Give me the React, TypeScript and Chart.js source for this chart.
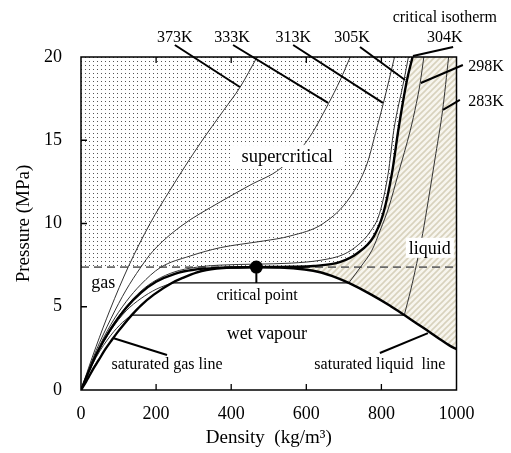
import React, { useEffect, useRef } from "react";
import { Chart, registerables } from "chart.js";

Chart.register(...registerables);

type Pt = [number, number];

// Axis ticks
const xTicks = [0, 200, 400, 600, 800, 1000];
const yTicks = [0, 5, 10, 15, 20];

// Critical point of CO2 (density kg/m3, pressure MPa)
const criticalPoint: Pt = [467, 7.38];
const criticalPressure = 7.38;

// Saturation dome
const satGas: Pt[] = [[0, 0], [14, 0.52], [21, 0.8], [33, 1.28], [47, 1.79], [64, 2.42], [82, 3.0], [98, 3.49], [115, 3.97], [135, 4.5], [160, 5.09], [194, 5.73], [242, 6.43], [271, 6.73], [307, 7.05], [334, 7.21], [398, 7.35], [467, 7.38]];
const satLiquid: Pt[] = [[467, 7.38], [530, 7.36], [596, 7.24], [637, 7.07], [680, 6.75], [713, 6.43], [773, 5.73], [821, 5.09], [861, 4.5], [896, 3.97], [928, 3.49], [956, 3.05], [983, 2.65], [1000, 2.45]];

// Isotherms
const iso373: Pt[] = [[0, 0], [40, 2.6], [77, 4.8], [126, 7.4], [184, 10.0], [237, 12.0], [317, 14.8], [380, 16.8], [424, 18.2], [469, 20]];
const iso333: Pt[] = [[0, 0], [40, 2.35], [80, 4.3], [120, 6.0], [157, 7.3], [190, 8.3], [264, 9.8], [371, 11.3], [450, 12.3], [531, 13.3], [603, 15.0], [659, 17.2], [690, 18.6], [717, 20]];
const iso313: Pt[] = [[0, 0], [40, 2.2], [80, 3.95], [120, 5.3], [160, 6.35], [211, 7.35], [291, 8.05], [371, 8.55], [424, 8.75], [486, 8.95], [557, 9.25], [645, 10.0], [717, 11.6], [762, 13.6], [784, 15.4], [805, 17.2], [835, 20]];
const iso305: Pt[] = [[0, 0], [40, 2.12], [80, 3.75], [120, 5.0], [160, 5.95], [200, 6.6], [250, 7.1], [300, 7.35], [370, 7.5], [467, 7.56], [560, 7.62], [640, 7.8], [700, 8.15], [740, 8.75], [770, 9.5], [795, 10.6], [818, 13.0], [833, 15.6], [860, 18.6], [872, 20]];
const iso304: Pt[] = [[0, 0], [40, 2.1], [80, 3.7], [120, 4.93], [160, 5.85], [200, 6.5], [250, 6.98], [300, 7.22], [370, 7.34], [467, 7.38], [560, 7.4], [620, 7.45], [691, 7.7], [735, 8.2], [779, 9.2], [805, 10.6], [828, 13.0], [845, 15.6], [868, 18.6], [883, 20]];
const iso298Gas: Pt[] = [[0, 0], [40, 2.05], [80, 3.6], [120, 4.75], [160, 5.5], [200, 6.05], [242, 6.43]];
const iso298Flat: Pt[] = [[242, 6.43], [713, 6.43]];
const iso298Liquid: Pt[] = [[713, 6.43], [745, 7.4], [775, 8.4], [797, 9.6], [820, 11.0], [845, 13.0], [877, 15.6], [893, 17.2], [903, 18.4], [913, 20]];
const iso283Gas: Pt[] = [[0, 0], [40, 1.95], [80, 3.3], [110, 4.05], [135, 4.5]];
const iso283Flat: Pt[] = [[135, 4.5], [861, 4.5]];
const iso283Liquid: Pt[] = [[861, 4.5], [878, 6.0], [894, 7.6], [910, 9.4], [925, 11.4], [945, 14.2], [963, 16.8], [979, 20]];

// Leader lines (data coordinates)
const leaderLines: [Pt, Pt][] = [
  [[250, 20.72], [423, 18.2]],
  [[405, 20.72], [658, 17.24]],
  [[565, 20.72], [804, 17.24]],
  [[743, 20.6], [863, 18.62]],
  [[991, 20.6], [884, 20.06]],
  [[1017, 19.52], [905, 18.44]],
  [[1009, 17.42], [964, 16.82]],
  [[85, 3.12], [229, 2.1]],
  [[796, 2.22], [924, 3.42]],
  [[467, 7.38], [467, 6.43]],
];

// Text labels (data coordinates of baseline)
type Label = { text: string; d: number; p: number; size: number; align?: CanvasTextAlign; box?: [number, number, number] };
const textLabels: Label[] = [
  { text: "373K", d: 250, p: 20.9, size: 16 },
  { text: "333K", d: 402, p: 20.9, size: 16 },
  { text: "313K", d: 565, p: 20.9, size: 16 },
  { text: "305K", d: 722, p: 20.9, size: 16 },
  { text: "critical isotherm", d: 969, p: 22.1, size: 16 },
  { text: "304K", d: 969, p: 20.9, size: 16 },
  { text: "298K", d: 1031, p: 19.13, size: 16, align: "left" },
  { text: "283K", d: 1031, p: 17.03, size: 16, align: "left" },
  { text: "supercritical", d: 549, p: 13.72, size: 18.5, box: [10, 16.5, 5.5] },
  { text: "liquid", d: 929, p: 8.18, size: 18, box: [3, 16, 4] },
  { text: "gas", d: 59, p: 6.1, size: 18 },
  { text: "critical point", d: 469, p: 5.41, size: 16 },
  { text: "wet vapour", d: 495, p: 3.06, size: 18 },
  { text: "saturated gas line", d: 229, p: 1.26, size: 16 },
  { text: "saturated liquid  line", d: 796, p: 1.26, size: 16 },
];

const FONT = "'Liberation Serif', 'Times New Roman', serif";

const toXY = (arr: Pt[]) => arr.map(([x, y]) => ({ x, y }));

function makeDots(ctx: CanvasRenderingContext2D) {
  const c = document.createElement("canvas");
  c.width = 4;
  c.height = 4;
  const g = c.getContext("2d")!;
  g.fillStyle = "#ffffff";
  g.fillRect(0, 0, 4, 4);
  g.fillStyle = "#555555";
  g.fillRect(1, 1, 1, 1);
  return ctx.createPattern(c, "repeat");
}

function makeHatch(ctx: CanvasRenderingContext2D) {
  const s = 6;
  const c = document.createElement("canvas");
  c.width = s;
  c.height = s;
  const g = c.getContext("2d")!;
  g.fillStyle = "#f7f5ee";
  g.fillRect(0, 0, s, s);
  g.strokeStyle = "#d8d2bd";
  g.lineWidth = 1.6;
  g.beginPath();
  g.moveTo(-1, s + 1);
  g.lineTo(s + 1, -1);
  g.moveTo(-1, 1);
  g.lineTo(1, -1);
  g.moveTo(s - 1, s + 1);
  g.lineTo(s + 1, s - 1);
  g.stroke();
  return ctx.createPattern(c, "repeat");
}

const overlayPlugin = {
  id: "overlay",
  afterDatasetsDraw(chart: any) {
    const { ctx, chartArea: a, scales } = chart;
    const x = scales.x;
    const y = scales.y;
    ctx.save();
    // frame
    ctx.strokeStyle = "#000";
    ctx.lineWidth = 1.5;
    ctx.strokeRect(a.left, a.top, a.right - a.left, a.bottom - a.top);
    // inward ticks
    ctx.lineWidth = 1.3;
    ctx.beginPath();
    xTicks.slice(1, -1).forEach((v) => {
      const px = x.getPixelForValue(v);
      ctx.moveTo(px, a.bottom);
      ctx.lineTo(px, a.bottom - 6);
      ctx.moveTo(px, a.top);
      ctx.lineTo(px, a.top + 6);
    });
    yTicks.slice(1, -1).forEach((v) => {
      const py = y.getPixelForValue(v);
      ctx.moveTo(a.left, py);
      ctx.lineTo(a.left + 6, py);
    });
    ctx.stroke();
    // leader lines
    ctx.lineWidth = 2;
    ctx.lineCap = "butt";
    leaderLines.forEach(([p1, p2]) => {
      ctx.beginPath();
      ctx.moveTo(x.getPixelForValue(p1[0]), y.getPixelForValue(p1[1]));
      ctx.lineTo(x.getPixelForValue(p2[0]), y.getPixelForValue(p2[1]));
      ctx.stroke();
    });
    // critical point marker on top
    ctx.fillStyle = "#000";
    ctx.beginPath();
    ctx.arc(x.getPixelForValue(criticalPoint[0]), y.getPixelForValue(criticalPoint[1]), 6.5, 0, Math.PI * 2);
    ctx.fill();
    // labels
    textLabels.forEach((l) => {
      ctx.font = `${l.size}px ${FONT}`;
      const px = x.getPixelForValue(l.d);
      const py = y.getPixelForValue(l.p);
      const align = l.align || "center";
      const w = ctx.measureText(l.text).width;
      const left = align === "center" ? px - w / 2 : px;
      if (l.box) {
        const [padX, above, below] = l.box;
        ctx.fillStyle = "#ffffff";
        ctx.fillRect(left - padX, py - above, w + 2 * padX, above + below);
      }
      ctx.fillStyle = "#000";
      ctx.textAlign = "left";
      ctx.textBaseline = "alphabetic";
      ctx.fillText(l.text, left, py);
    });
    ctx.restore();
  },
};

export default function App() {
  const ref = useRef<HTMLCanvasElement>(null);
  useEffect(() => {
    const canvas = ref.current!;
    const ctx = canvas.getContext("2d")!;
    const dots = makeDots(ctx);
    const hatch = makeHatch(ctx);

    const thin = (data: Pt[], mono = true) => ({
      data: toXY(data),
      showLine: true,
      borderColor: "#333333",
      borderWidth: 1,
      pointRadius: 0,
      fill: false,
      cubicInterpolationMode: mono ? "monotone" : "default",
      order: 3,
    });
    const thick = (data: Pt[]) => ({
      data: toXY(data),
      showLine: true,
      borderColor: "#000",
      borderWidth: 2.4,
      pointRadius: 0,
      fill: false,
      cubicInterpolationMode: "monotone",
      order: 2,
    });

    const supercriticalBoundary: Pt[] = [[0, criticalPressure], ...iso304.filter((p) => p[0] >= criticalPoint[0])];

    const chart = new Chart(canvas, {
      type: "scatter",
      data: {
        datasets: [
          {
            data: toXY(satLiquid),
            showLine: true,
            borderWidth: 0,
            borderColor: "rgba(0,0,0,0)",
            pointRadius: 0,
            fill: "end",
            backgroundColor: hatch as any,
            cubicInterpolationMode: "monotone",
            order: 20,
          },
          {
            data: toXY(supercriticalBoundary),
            showLine: true,
            borderWidth: 0,
            borderColor: "rgba(0,0,0,0)",
            pointRadius: 0,
            fill: "end",
            backgroundColor: dots as any,
            cubicInterpolationMode: "monotone",
            order: 19,
          },
          {
            data: toXY([[0, criticalPressure], [1000, criticalPressure]]),
            showLine: true,
            borderColor: "#6a6a6a",
            borderWidth: 1.6,
            borderDash: [8, 5],
            pointRadius: 0,
            fill: false,
            order: 4,
          },
          thin(iso373),
          thin(iso333),
          thin(iso313),
          thin(iso305),
          thin(iso298Gas),
          { ...thin(iso298Flat, false), borderWidth: 1.3, borderColor: "#000" },
          thin(iso298Liquid),
          thin(iso283Gas),
          { ...thin(iso283Flat, false), borderWidth: 1.3, borderColor: "#000" },
          thin(iso283Liquid),
          thick(satGas),
          thick(satLiquid),
          thick(iso304),
        ] as any,
      },
      options: {
        animation: false,
        responsive: true,
        maintainAspectRatio: false,
        layout: { padding: { left: 0, right: 54.5, top: 57, bottom: 0 } },
        plugins: { legend: { display: false }, tooltip: { enabled: false } },
        scales: {
          x: {
            type: "linear",
            min: 0,
            max: 1000,
            ticks: { stepSize: 200, color: "#000", font: { family: FONT, size: 18 }, padding: 13, maxRotation: 0, callback: (v: any) => String(v) },
            grid: { display: false, drawTicks: false },
            border: { display: false },
            title: { display: true, text: "Density  (kg/m³)", color: "#000", font: { family: FONT, size: 19 }, padding: { top: 0, bottom: 4 } },
            afterFit: (s: any) => {
              s.height = 63;
            },
          },
          y: {
            type: "linear",
            min: 0,
            max: 20,
            ticks: { stepSize: 5, color: "#000", font: { family: FONT, size: 18 }, padding: 19, callback: (v: any) => String(v) },
            grid: { display: false, drawTicks: false },
            border: { display: false },
            title: { display: true, text: "Pressure (MPa)", color: "#000", font: { family: FONT, size: 19 }, padding: { top: 13, bottom: 0 } },
            afterFit: (s: any) => {
              s.width = 81;
            },
          },
        },
      } as any,
      plugins: [overlayPlugin],
    });
    return () => chart.destroy();
  }, []);

  return (
    <div style={{ position: "absolute", left: 0, top: 0, width: 511, height: 453, background: "#fff" }}>
      <canvas ref={ref} />
    </div>
  );
}
